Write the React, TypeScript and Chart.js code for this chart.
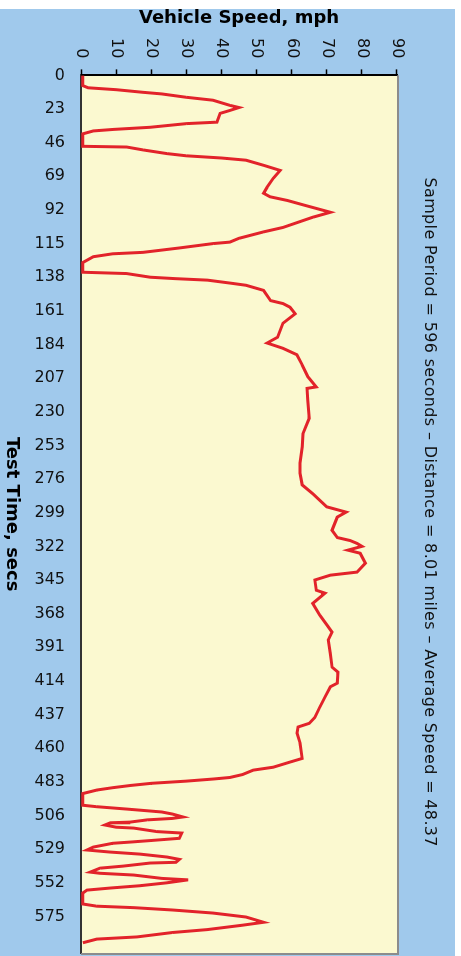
import React, { useEffect, useRef } from 'react';
import { Chart, registerables } from 'chart.js';

Chart.register(...registerables);

// Test time (seconds) and vehicle speed (mph)
const TIME_S = [
  0, 7, 8.5, 9.8, 11.6, 12.7, 15, 17, 20.5, 22, 24, 26, 32, 33, 35.5, 37, 38, 40, 48.5, 49, 51, 53.5, 55,
  56.5, 58, 61.5, 65, 70.5, 76.5, 80.6, 83, 85.5, 89, 93.6, 97, 104, 107, 111.4, 114, 115, 118, 121, 122,
  124, 128, 134.6, 135.5, 138, 139, 140, 142, 143.5, 147, 154, 156, 158.5, 163, 169.5, 179, 183, 186.6,
  191, 198, 206, 213, 214, 222, 234.5, 245, 254, 265, 272, 280, 286, 295, 298.6, 302, 311, 316, 318,
  320, 322, 324.6, 326.7, 333.5, 339.6, 341.7, 345, 352, 354, 361, 369, 377, 380.6, 386, 395, 404.6,
  408, 415.5, 418, 425, 432, 439, 443, 445.5, 449.7, 456.5, 467, 469.5, 473, 475, 478, 480, 481, 482.5,
  484, 485.5, 487, 488.6, 491, 499, 500, 501.6, 503.6, 505, 507, 508, 509, 510.5, 511, 512.5, 514,
  514.6, 517, 518, 521.6, 523, 524, 525, 527.6, 529.6, 531, 532.4, 534.4, 536, 538, 538.5, 540.6, 542,
  544.7, 545.5, 546.7, 549, 550, 552, 554, 555.6, 557, 559, 566.5, 568, 569, 570.6, 572.7, 575.4, 579,
  581, 584, 586, 589, 590.5, 593,
];
const SPEED_MPH = [
  0.5, 0.5, 2, 10, 17.7, 23, 30, 37.6, 42.4, 45, 42.4, 39.6, 38.7, 30, 19.7, 9, 3.5, 0.5, 0.5, 13, 17.7,
  24.5, 30, 40, 47, 52, 56.7, 54.7, 53, 52, 53.8, 58.7, 64, 71, 66, 57.5, 52, 45, 42.4, 37.6, 28, 17.7,
  9, 3.5, 0.5, 0.5, 13, 19.7, 27, 36, 42.4, 47, 52, 54, 57.5, 59.5, 61, 57.5, 56, 53, 57.5, 61.5, 63,
  64.6, 67, 64.4, 64.6, 65, 63.2, 63, 62.4, 62.4, 63, 66, 70, 75.5, 73, 71.5, 73, 76.6, 78.6, 80, 76,
  79.5, 81, 78.6, 71, 66.6, 67, 69.5, 66, 68, 70.4, 71.5, 70.4, 71, 71.5, 73.2, 73, 71, 69.5, 68, 66.6,
  65, 61.8, 61.5, 62.4, 63, 59.5, 54.7, 49, 46, 42.4, 38, 30, 20, 14, 9, 4.5, 0.5, 0.5, 4.5, 13, 23,
  26, 29, 26, 18.8, 14, 8.3, 6.8, 10, 15, 21.6, 28.7, 28, 20.5, 15, 9, 3.5, 1.7, 8.3, 16.8, 24.5, 28,
  27, 19.7, 12, 5.4, 2.6, 5.4, 15, 23, 30.5, 24.5, 16.8, 8.3, 1.7, 0.5, 0.5, 4.5, 15, 26, 37.6, 47, 52,
  46, 36, 26, 16, 4.5, 0.5,
];

const SAMPLE_PERIOD = 596;
const TIME_MAX = 600;
const TIME_STEP = 23;
const SPEED_MAX = 90;
const SPEED_STEP = 10;

const TIME_TITLE = 'Test Time, secs';
const SPEED_TITLE = 'Vehicle Speed, mph';
const NOTE_TEXT = 'Sample Period = 596 seconds – Distance = 8.01 miles – Average Speed = 48.37';

const BLUE = '#A0C9EC';
const YELLOW = '#FBF9D0';
const RED = '#E2232A';
const FONT = '"DejaVu Sans", sans-serif';

// canvas is drawn as a normal (time horizontal) chart and turned 90° clockwise
const CW = 947;
const CH = 455;

const framePlugin = {
  id: 'frame',
  beforeDraw(chart: any) {
    const { ctx, chartArea: a, width, height } = chart;
    ctx.save();
    ctx.fillStyle = BLUE;
    ctx.fillRect(0, 0, width, height);
    ctx.fillStyle = YELLOW;
    ctx.fillRect(a.left, a.top, a.right - a.left, a.bottom - a.top);
    ctx.restore();
  },
  afterDraw(chart: any) {
    const { ctx, chartArea: a } = chart;
    ctx.save();
    ctx.strokeStyle = '#8C8C8C';
    ctx.lineWidth = 2;
    ctx.beginPath();
    ctx.moveTo(a.left, a.top - 1);
    ctx.lineTo(a.right + 1, a.top - 1);
    ctx.lineTo(a.right + 1, a.bottom);
    ctx.stroke();
    ctx.fillStyle = '#111';
    ctx.font = `16px ${FONT}`;
    (ctx as any).letterSpacing = '0.35px';
    ctx.textAlign = 'center';
    ctx.textBaseline = 'middle';
    ctx.fillText(NOTE_TEXT, (a.left + a.right) / 2 - 2, 26);
    ctx.restore();
  },
};

export default function App() {
  const ref = useRef<HTMLCanvasElement | null>(null);

  useEffect(() => {
    if (!ref.current) return;
    const points = TIME_S.map((t, i) => ({ x: t, y: SPEED_MPH[i] }));
    const chart = new Chart(ref.current, {
      type: 'line',
      data: {
        datasets: [
          {
            data: points,
            borderColor: RED,
            borderWidth: 3,
            pointRadius: 0,
            tension: 0,
            fill: false,
          },
        ],
      },
      options: {
        animation: false,
        responsive: false,
        maintainAspectRatio: false,
        layout: { padding: { top: 58, right: 3, left: 0, bottom: 0 } },
        plugins: {
          legend: { display: false },
          tooltip: { enabled: false },
          title: { display: false },
        },
        scales: {
          x: {
            type: 'linear',
            position: 'bottom',
            min: 0,
            max: TIME_MAX,
            afterBuildTicks: (scale: any) => {
              scale.ticks = scale.ticks.filter((t: any) => t.value <= SAMPLE_PERIOD - TIME_STEP + 2);
            },
            grid: {
              drawOnChartArea: false,
              drawTicks: true,
              tickLength: 8,
              tickColor: 'rgba(0,0,0,0)',
            },
            border: { color: '#333', width: 2 },
            ticks: {
              stepSize: TIME_STEP,
              includeBounds: false,
              autoSkip: false,
              minRotation: 90,
              maxRotation: 90,
              padding: 8,
              color: '#111',
              font: { family: FONT, size: 16 },
            },
            title: {
              display: true,
              text: TIME_TITLE,
              color: '#000',
              font: { family: FONT, size: 18, weight: 'bold', lineHeight: 1.2 },
              padding: { top: 3.7, bottom: 1.2 },
            },
          },
          y: {
            type: 'linear',
            position: 'left',
            min: 0,
            max: SPEED_MAX,
            grid: {
              drawOnChartArea: false,
              drawTicks: true,
              tickLength: 6,
              tickColor: '#000',
              tickWidth: 1.5,
            },
            border: { color: '#000', width: 2 },
            ticks: {
              stepSize: SPEED_STEP,
              padding: 11,
              color: '#111',
              font: { family: FONT, size: 16 },
            },
            title: {
              display: true,
              text: SPEED_TITLE,
              color: '#000',
              font: { family: FONT, size: 18, weight: 'bold', lineHeight: 1 },
              padding: { top: 0, bottom: 0 },
            },
          },
        },
      },
      plugins: [framePlugin],
    });
    return () => chart.destroy();
  }, []);

  return (
    <div
      style={{
        position: 'absolute',
        left: 0,
        top: 9,
        width: CH,
        height: CW,
        overflow: 'hidden',
      }}
    >
      <canvas
        ref={ref}
        width={CW}
        height={CH}
        style={{
          position: 'absolute',
          left: 0,
          top: 0,
          width: CW,
          height: CH,
          transformOrigin: '0 0',
          transform: `translate(${CH}px, 0) rotate(90deg)`,
        }}
      />
    </div>
  );
}
